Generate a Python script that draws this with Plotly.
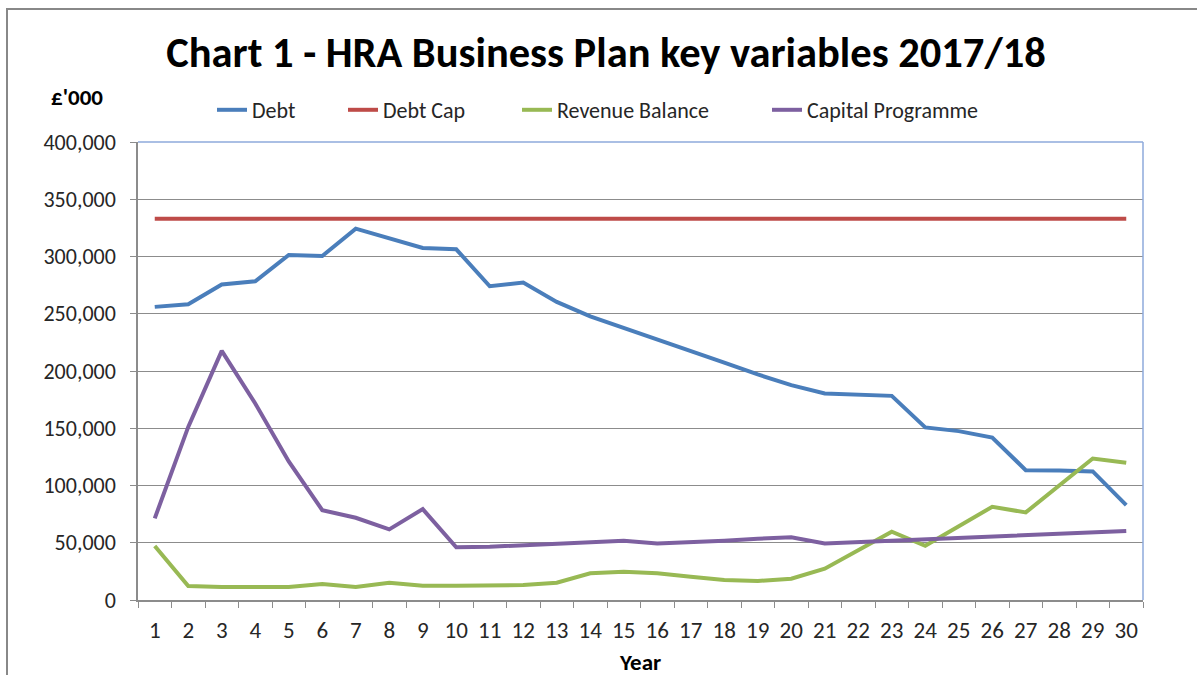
import plotly.graph_objects as go

years = list(range(1, 31))
debt = [256000, 258300, 275500, 278400, 301300, 300500, 324300, 315600, 307400, 306300,
        274000, 277200, 260300, 247800, 237900, 227700, 217600, 207400, 197000, 187600,
        180300, 179500, 178300, 150700, 147500, 141900, 113400, 113100, 112300, 82900]
debt_cap = [333000] * 30
revenue_balance = [47100, 12200, 11300, 11300, 11300, 14000, 11300, 15100, 12500, 12500,
                   13100, 13100, 15100, 23300, 24700, 23300, 20300, 17500, 16600, 18600,
                   27300, 43000, 59600, 47400, 64000, 81400, 76500, 99500, 123600, 119800]
capital_programme = [71300, 151200, 217600, 171600, 121000, 78500, 71800, 61700, 79400, 46000,
                     46500, 48000, 49400, 50600, 51700, 49400, 50300, 51700, 53500, 54700,
                     49400, 50600, 51700, 53200, 54100, 55300, 56100, 57300, 59000, 60200]
y_ticks = [0, 50000, 100000, 150000, 200000, 250000, 300000, 350000, 400000]

series = [
    ("Debt", debt, "#4A7EBB"),
    ("Debt Cap", debt_cap, "#BE4B48"),
    ("Revenue Balance", revenue_balance, "#98B954"),
    ("Capital Programme", capital_programme, "#7D60A0"),
]
# left pixel position of each legend entry
legend_left = [212, 343, 517, 767]

FONT = "Carlito, Calibri, 'Open Sans', sans-serif"

W, H = 1197, 675
L, R, T, B = 138, 54, 142, 75
pw, ph = W - L - R, H - T - B


def px(x):
    return (x - L) / pw


def py(y):
    return (H - B - y) / ph


fig = go.Figure()
legend_defs = {}
for i, (name, vals, col) in enumerate(series):
    lname = "legend" if i == 0 else f"legend{i + 1}"
    fig.add_trace(go.Scatter(x=years, y=vals, name=name, mode="lines",
                             line=dict(color=col, width=4), legend=lname))
    legend_defs[lname] = dict(orientation="h", x=px(legend_left[i]), xanchor="left",
                              y=py(110), yanchor="middle",
                              font=dict(size=22, color="#262626", family=FONT),
                              bgcolor="rgba(0,0,0,0)", borderwidth=0)

fig.update_layout(
    width=W, height=H,
    margin=dict(l=L, r=R, t=T, b=B),
    paper_bgcolor="white", plot_bgcolor="white",
    font=dict(family=FONT, color="#262626", size=22),
    title=dict(text="<b>Chart 1 - HRA Business Plan key variables 2017/18</b>",
               xref="container", x=606 / W, xanchor="center", y=1 - 52 / H, yanchor="middle",
               font=dict(size=42.5, color="black", family=FONT)),
    showlegend=True,
    **legend_defs,
)

fig.update_xaxes(
    range=[0.5, 30.5], tickmode="array", tickvals=years, ticktext=[str(v) for v in years],
    ticks="", showgrid=False, showline=True, linecolor="#8C8C8C", linewidth=1.5,
    ticklabelstandoff=9, tickfont=dict(size=23, color="#262626"), zeroline=False,
    minor=dict(ticks="outside", tickmode="array",
               tickvals=[v - 0.5 for v in years] + [years[-1] + 0.5],
               ticklen=6, tickcolor="#8C8C8C", tickwidth=1, showgrid=False),
)
fig.update_yaxes(
    range=[0, 400000], tickmode="array", tickvals=y_ticks, tickformat=",",
    showgrid=True, gridcolor="#8C8C8C", gridwidth=1, zeroline=False,
    showline=True, linecolor="#8C8C8C", linewidth=1.5,
    ticks="outside", ticklen=6, tickcolor="#8C8C8C",
    ticklabelstandoff=10, tickfont=dict(size=22, color="#262626"),
)

shapes = [
    dict(type="rect", xref="paper", yref="paper", x0=px(7), x1=px(1215), y0=py(9), y1=py(700),
         line=dict(color="#888888", width=2), fillcolor="rgba(0,0,0,0)", layer="below"),
    dict(type="line", xref="paper", yref="paper", x0=0, x1=1, y0=1, y1=1,
         line=dict(color="#8EAADB", width=1.5)),
    dict(type="line", xref="paper", yref="paper", x0=1, x1=1, y0=0, y1=1,
         line=dict(color="#8EAADB", width=1.5)),
]
fig.update_layout(shapes=shapes)

fig.add_annotation(text="<b>£'000</b>", xref="paper", yref="paper", x=px(77), y=py(97),
                   showarrow=False, font=dict(size=23, color="black"), xanchor="center",
                   yanchor="middle")
fig.add_annotation(text="<b>Year</b>", xref="paper", yref="paper", x=px(640), y=py(662),
                   showarrow=False, font=dict(size=23, color="black"), xanchor="center",
                   yanchor="middle")

fig.write_html("out.html", config={"displayModeBar": False},
               post_script="document.body.style.margin='0';")
